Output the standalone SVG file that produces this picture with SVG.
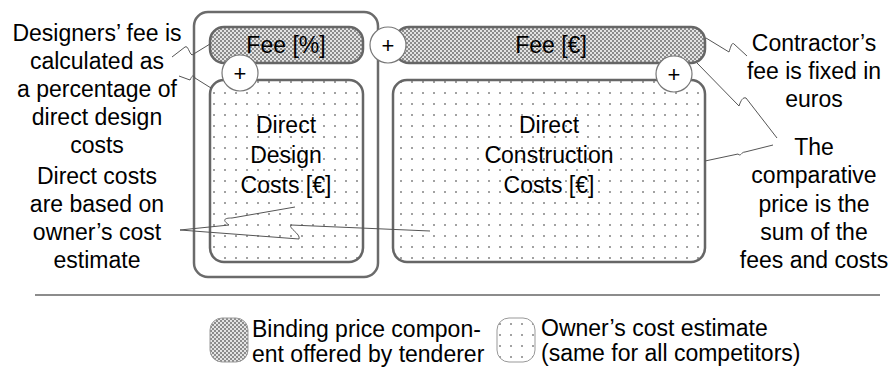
<svg xmlns="http://www.w3.org/2000/svg" width="893" height="368" viewBox="0 0 893 368">
  <defs>
    <!-- fine checker fill: binding price components -->
    <pattern id="checker" width="4" height="4" patternUnits="userSpaceOnUse">
      <rect width="4" height="4" fill="#e4e4e4"/>
      <rect width="2" height="2" fill="#8c8c8c"/>
      <rect x="2" y="2" width="2" height="2" fill="#8c8c8c"/>
    </pattern>
    <!-- sparse dot fill: owner's estimate -->
    <pattern id="dots" width="11" height="11" patternUnits="userSpaceOnUse">
      <rect width="11" height="11" fill="#ffffff"/>
      <rect x="4" y="4" width="2" height="2" fill="#a2a2a2"/>
    </pattern>
    <style>
      text { font-family: "Liberation Sans", Arial, Helvetica, sans-serif; fill: #000; }
      .t { font-size: 23px; text-anchor: middle; }
      .lg { font-size: 23px; text-anchor: start; }
      .plus { font-size: 22px; text-anchor: middle; }
      .frame { fill: #fff; stroke: #6b6b6b; stroke-width: 2.5; }
      .fee { fill: url(#checker); stroke: #666; stroke-width: 2.5; }
      .est { fill: url(#dots); stroke: #666; stroke-width: 2.5; }
      .op { fill: #fff; stroke: #777; stroke-width: 1.2; }
      .call { fill: none; stroke: #555; stroke-width: 1; }
      .rule { stroke: #8c8c8c; stroke-width: 2; }
    </style>
  </defs>

  <!-- design tender -->
  <g id="design-frame">
    <rect class="frame" x="194" y="12" width="184" height="265" rx="14"/>
  </g>
  <g id="fee-percent">
    <rect class="fee" x="210" y="27" width="153" height="36" rx="14"/>
    <text class="t" x="286" y="53">Fee [%]</text>
  </g>
  <g id="design-costs">
    <rect class="est" x="210" y="80" width="153" height="182" rx="14"/>
    <text class="t" x="286" y="133">Direct</text>
    <text class="t" x="286" y="163">Design</text>
    <text class="t" x="286" y="193">Costs [€]</text>
  </g>

  <!-- construction tender -->
  <g id="fee-euro">
    <rect class="fee" x="395" y="27" width="310" height="36" rx="14"/>
    <text class="t" x="551" y="53">Fee [€]</text>
  </g>
  <g id="construction-costs">
    <rect class="est" x="393" y="80" width="312" height="182" rx="14"/>
    <text class="t" x="549" y="133">Direct</text>
    <text class="t" x="549" y="163">Construction</text>
    <text class="t" x="549" y="193">Costs [€]</text>
  </g>

  <!-- callout lines -->
  <g id="connectors">
    <path class="call" d="M172,57 L185,47 C188,45 189,53 192,55 L210,44"/>
    <path class="call" d="M179,76 L190,80 C192,76 193,74 195,78 L211,88"/>
    <path class="call" d="M706,38 L729,52 C731,46 732,42 734,44 L747,56"/>
    <path class="call" d="M697,63 L739,106 C741,100 743,97 746,98 L777,138"/>
    <path class="call" d="M705,161 L738,154 C741,157 741,152 745,152 L773,145"/>
    <path class="call" d="M180,230 L229,225 C222,220 224,218 232,218 L295,207"/>
    <path class="call" d="M180,230 L299,239 C301,234 288,228 291,225 L430,231"/>
  </g>

  <!-- sum operators -->
  <g id="plus-design">
    <circle class="op" cx="240" cy="73" r="18"/>
    <text class="plus" x="240" y="81">+</text>
  </g>
  <g id="plus-total">
    <circle class="op" cx="388" cy="45" r="18"/>
    <text class="plus" x="388" y="53">+</text>
  </g>
  <g id="plus-construction">
    <circle class="op" cx="674" cy="74" r="18"/>
    <text class="plus" x="674" y="82">+</text>
  </g>

  <!-- annotations -->
  <g id="note-designers">
    <text class="t" x="97" y="41">Designers’ fee is</text>
    <text class="t" x="97" y="69">calculated as</text>
    <text class="t" x="97" y="97">a percentage of</text>
    <text class="t" x="97" y="125">direct design</text>
    <text class="t" x="97" y="153">costs</text>
  </g>
  <g id="note-direct">
    <text class="t" x="97" y="184">Direct costs</text>
    <text class="t" x="97" y="212">are based on</text>
    <text class="t" x="97" y="240">owner’s cost</text>
    <text class="t" x="97" y="268">estimate</text>
  </g>
  <g id="note-contractor">
    <text class="t" x="814" y="51">Contractor’s</text>
    <text class="t" x="814" y="79">fee is fixed in</text>
    <text class="t" x="814" y="107">euros</text>
  </g>
  <g id="note-comparative">
    <text class="t" x="814" y="155">The</text>
    <text class="t" x="814" y="183">comparative</text>
    <text class="t" x="814" y="212">price is the</text>
    <text class="t" x="814" y="240">sum of the</text>
    <text class="t" x="814" y="268">fees and costs</text>
  </g>

  <line class="rule" x1="35" y1="295" x2="880" y2="295"/>

  <!-- legend -->
  <g id="legend-binding">
    <rect x="210" y="318" width="38" height="44" rx="12" fill="url(#checker)" stroke="#999" stroke-width="1"/>
    <text class="lg" x="252" y="337">Binding price compon-</text>
    <text class="lg" x="252" y="362">ent offered by tenderer</text>
  </g>
  <g id="legend-estimate">
    <rect x="497" y="318" width="38" height="44" rx="12" fill="url(#dots)" stroke="#999" stroke-width="1"/>
    <text class="lg" x="541" y="336">Owner’s cost estimate</text>
    <text class="lg" x="541" y="361">(same for all competitors)</text>
  </g>
</svg>
